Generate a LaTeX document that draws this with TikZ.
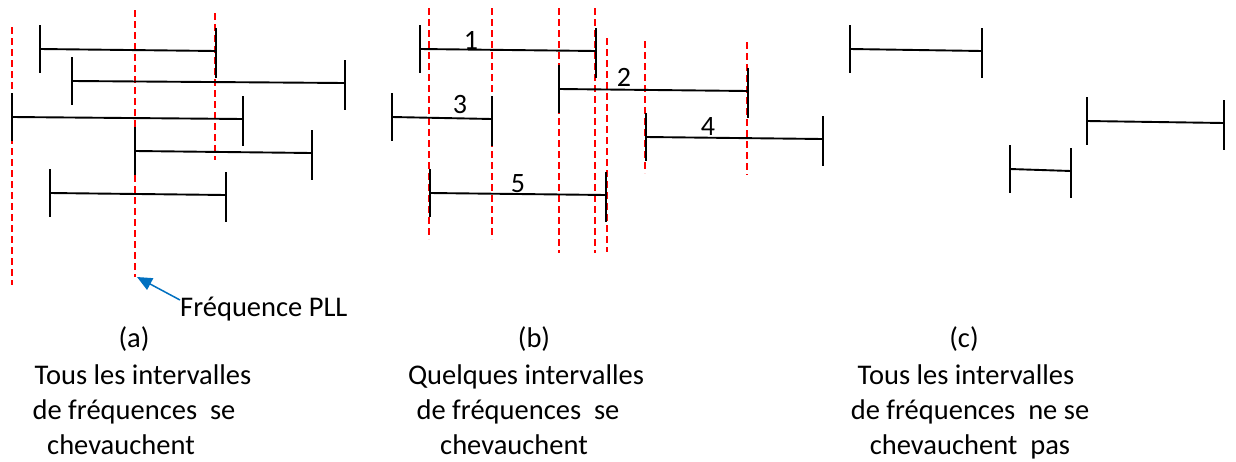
\documentclass[tikz,border=0pt]{standalone}
\usepackage{fontspec}
\setmainfont{Carlito}
\usetikzlibrary{arrows.meta}
\definecolor{arrowblue}{RGB}{0,112,192}
\newcommand{\ivl}[4]{%
  \draw[ivline] (#1,#2) -- (#3,#4);
  \draw[ivline] (#1,#2-24) -- (#1,#2+24);
  \draw[ivline] (#3,#4-23) -- (#3,#4+27);
}
\newcommand{\redl}[3]{\draw[reddash] (#1,#2) -- (#1,#3);}
\begin{document}
\begin{tikzpicture}[x=1pt,y=-1pt,
  ivline/.style={line width=1.9pt,black},
  reddash/.style={line width=1.5pt,red,dash pattern=on 7pt off 4pt},
  captext/.style={font=\fontsize{28.5}{36}\selectfont,anchor=base,inner sep=0pt},
  numtext/.style={font=\fontsize{28}{34}\selectfont,anchor=base,inner sep=0pt}]
\useasboundingbox (0,0) rectangle (1236,461);
% ---------- (a) ----------
\redl{12}{27}{285}
\redl{135}{10}{277}
\redl{215}{13}{160}
\ivl{40}{49}{216}{51}
\ivl{72}{81}{345}{83}
\ivl{12}{117}{243}{119}
\ivl{135}{151}{312}{153}
\ivl{50}{193}{226}{195}
\node[captext,anchor=base west] (pll) at (180,316) {Fréquence PLL};
\coordinate (pllstart) at (180,300);
\coordinate (plltip) at (137,277);
\draw[line width=1.5pt,arrowblue,-{Triangle[length=15pt,width=13pt]}] (pllstart) -- (plltip);
\node[captext] (capa) at (134,347) {(a)};
\node[captext] (capa1) at (143,384) {Tous les intervalles};
\node[captext] (capa2) at (134,419) {de fréquences~ se};
\node[captext] (capa3) at (121,454) {chevauchent};
% ---------- (b) ----------
\redl{429}{8}{239}
\redl{492}{8}{239}
\redl{559}{8}{253}
\redl{595}{8}{253}
\redl{607}{38}{252}
\redl{645}{41}{173}
\redl{747}{42}{175}
\ivl{420}{49}{596}{51}
\ivl{559}{89}{748}{91}
\ivl{392}{117}{492}{119}
\ivl{646}{137}{823}{139}
\ivl{430}{193}{606}{195}
\node[numtext] (n1) at (471,49) {1};
\node[numtext] (n2) at (624,86) {2};
\node[numtext] (n3) at (460,113) {3};
\node[numtext] (n4) at (708,135) {4};
\node[numtext] (n5) at (518,192) {5};
\node[captext] (capb) at (534,347) {(b)};
\node[captext] (capb1) at (526,384) {Quelques intervalles};
\node[captext] (capb2) at (518,419) {de fréquences~ se};
\node[captext] (capb3) at (514,454) {chevauchent};
% ---------- (c) ----------
\ivl{850}{49}{982}{51}
\ivl{1087}{121}{1224}{123}
\ivl{1010}{169}{1071}{171}
\node[captext] (capc) at (964,347) {(c)};
\node[captext] (capc1) at (966,384) {Tous les intervalles};
\node[captext] (capc2) at (970,419) {de fréquences~ ne se};
\node[captext] (capc3) at (970,454) {chevauchent~ pas};
\end{tikzpicture}
\end{document}
